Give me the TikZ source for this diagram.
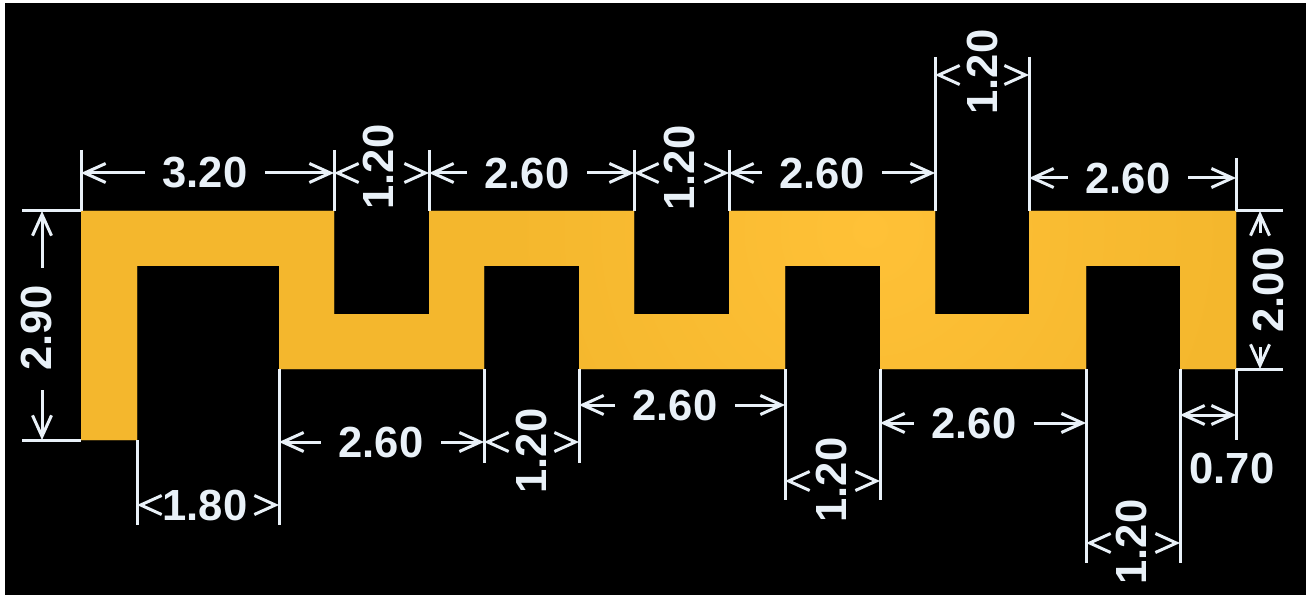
\documentclass[tikz,border=0pt]{standalone}
\usepackage{fontspec}
\setmainfont{Liberation Sans}
\usetikzlibrary{arrows.meta}
\definecolor{dimwhite}{HTML}{E9F1F8}
\definecolor{platefill}{HTML}{F4B72D}
\definecolor{plateglow}{HTML}{FFC137}
\pgfdeclareradialshading{plateshade}{\pgfpointorigin}{color(0bp)=(plateglow); color(10bp)=(platefill); color(50bp)=(platefill)}
\tikzset{
  extline/.style={draw=dimwhite,line width=0.03cm},
  dimarrow/.style={draw=dimwhite,line width=0.03cm,-{Straight Barb[length=0.21cm,width=0.19cm]}},
  dimtext/.style={text=dimwhite,inner ysep=0pt,inner xsep=0.17cm,font=\fontsize{12.4}{14}\selectfont\bfseries},
  dimtextup/.style={dimtext,rotate=90,inner xsep=0pt}
}
\begin{document}
\begin{tikzpicture}[x=1cm,y=-1cm]
  \useasboundingbox (0,0) rectangle (13.06,5.98);
  \fill[white] (0,0) rectangle (13.06,5.98);
  \fill[black] (0.05,0.03) rectangle (13.06,5.95);

  % plate outline
  \path[fill=platefill,path picture={\shade[shading=plateshade] (8.7,2.3) circle (9);}] (0.81,2.11) -- (3.34,2.11) -- (3.34,3.14) -- (4.29,3.14) -- (4.29,2.11) -- (6.34,2.11) -- (6.34,3.14) -- (7.29,3.14) -- (7.29,2.11)
    -- (9.35,2.11) -- (9.35,3.14) -- (10.29,3.14) -- (10.29,2.11) -- (12.36,2.11) -- (12.36,3.69) -- (11.80,3.69) -- (11.80,2.66) -- (10.86,2.66) -- (10.86,3.69)
    -- (8.80,3.69) -- (8.80,2.66) -- (7.85,2.66) -- (7.85,3.69) -- (5.79,3.69) -- (5.79,2.66) -- (4.84,2.66) -- (4.84,3.69) -- (2.79,3.69) -- (2.79,2.66)
    -- (1.37,2.66) -- (1.37,4.40) -- (0.81,4.40) -- cycle;

  % extension lines
  \foreach \x/\ya/\yb in {0.81/1.50/2.11, 3.34/1.50/2.11, 4.29/1.50/2.11, 6.34/1.50/2.11, 7.29/1.50/2.11, 9.35/0.57/2.11, 10.29/0.57/2.11, 12.36/1.58/2.11,
    1.37/4.40/5.25, 2.79/3.69/5.25, 4.84/3.69/4.63, 5.79/3.69/4.63, 7.85/3.69/5.00, 8.80/3.69/5.00, 10.86/3.69/5.63, 11.80/3.69/5.63, 12.36/3.69/4.40}
    \draw[extline] (\x,\ya) -- (\x,\yb);
  \foreach \y/\xa/\xb in {2.11/0.22/0.81, 4.40/0.22/0.81, 2.11/12.36/12.83, 3.69/12.36/12.83}
    \draw[extline] (\xa,\y) -- (\xb,\y);

  % labels
  \node[dimtext] (top320) at (2.05,1.73) {3.20};
  \node[dimtext] (top260a) at (5.27,1.73) {2.60};
  \node[dimtext] (top260b) at (8.22,1.73) {2.60};
  \node[dimtext] (top260c) at (11.28,1.78) {2.60};
  \node[dimtext] (bot260a) at (3.81,4.42) {2.60};
  \node[dimtext] (bot260b) at (6.75,4.05) {2.60};
  \node[dimtext] (bot260c) at (9.74,4.23) {2.60};
  \node[dimtext] (bot180) at (2.05,5.05) {1.80};
  \node[dimtext] (bot070) at (12.32,4.68) {0.70};
  \node[dimtextup] (top120a) at (3.78,1.67) {1.20};
  \node[dimtextup] (top120b) at (6.79,1.68) {1.20};
  \node[dimtextup] (top120c) at (9.82,0.72) {1.20};
  \node[dimtextup] (bot120a) at (5.31,4.51) {1.20};
  \node[dimtextup] (bot120b) at (8.31,4.80) {1.20};
  \node[dimtextup] (bot120c) at (11.31,5.42) {1.20};
  \node[dimtextup] (lef290) at (0.36,3.28) {2.90};
  \node[dimtextup] (rig200) at (12.68,2.90) {2.00};

  % dimension ends
  \coordinate (a320l) at (0.81,1.73);
  \coordinate (a320r) at (3.34,1.73);
  \coordinate (a260al) at (4.29,1.73);
  \coordinate (a260ar) at (6.34,1.73);
  \coordinate (a260bl) at (7.29,1.73);
  \coordinate (a260br) at (9.35,1.73);
  \coordinate (a260cl) at (10.29,1.78);
  \coordinate (a260cr) at (12.36,1.78);
  \coordinate (b260al) at (2.79,4.42);
  \coordinate (b260ar) at (4.84,4.42);
  \coordinate (b260bl) at (5.79,4.05);
  \coordinate (b260br) at (7.85,4.05);
  \coordinate (b260cl) at (8.80,4.23);
  \coordinate (b260cr) at (10.86,4.23);

  \foreach \lbl/\tgt in {top320/a320l, top320/a320r, top260a/a260al, top260a/a260ar, top260b/a260bl, top260b/a260br, top260c/a260cl, top260c/a260cr,
    bot260a/b260al, bot260a/b260ar, bot260b/b260bl, bot260b/b260br, bot260c/b260cl, bot260c/b260cr}
    \draw[dimarrow] (\lbl) -- (\tgt);

  % bare tips beside the narrow labels
  \foreach \name/\xa/\xb/\xc/\xd/\y in {ta/3.39/3.34/4.24/4.29/1.73, tb/6.39/6.34/7.24/7.29/1.73, tc/9.40/9.35/10.24/10.29/0.75,
    ba/4.89/4.84/5.74/5.79/4.42, bb/7.90/7.85/8.75/8.80/4.81, bc/10.91/10.86/11.75/11.80/5.43, bl/1.42/1.37/2.74/2.79/5.05}{
    \coordinate (\name ls) at (\xa,\y);
    \coordinate (\name le) at (\xb,\y);
    \coordinate (\name rs) at (\xc,\y);
    \coordinate (\name re) at (\xd,\y);
    \draw[dimarrow] (\name ls) -- (\name le);
    \draw[dimarrow] (\name rs) -- (\name re);
  }

  % left and right heights
  \coordinate (h290us) at (0.42,2.68);
  \coordinate (h290ue) at (0.42,2.11);
  \coordinate (h290ds) at (0.42,3.90);
  \coordinate (h290de) at (0.42,4.40);
  \coordinate (h200us) at (12.60,2.33);
  \coordinate (h200ue) at (12.60,2.11);
  \coordinate (h200ds) at (12.60,3.47);
  \coordinate (h200de) at (12.60,3.69);
  \coordinate (w070l) at (11.80,4.15);
  \coordinate (w070r) at (12.36,4.15);
  \draw[dimarrow] (h290us) -- (h290ue);
  \draw[dimarrow] (h290ds) -- (h290de);
  \draw[dimarrow] (h200us) -- (h200ue);
  \draw[dimarrow] (h200ds) -- (h200de);
  \draw[dimarrow,{Straight Barb[length=0.21cm,width=0.19cm]}-{Straight Barb[length=0.21cm,width=0.19cm]}] (w070l) -- (w070r);
\end{tikzpicture}
\end{document}
